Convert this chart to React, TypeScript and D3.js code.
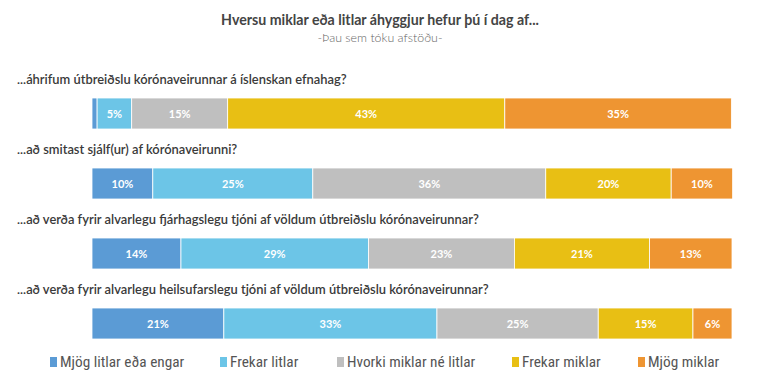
import React from "react";
import * as d3 from "d3";

const title = "Hversu miklar eða litlar áhyggjur hefur þú í dag af...";
const subtitle = "-Þau sem tóku afstöðu-";
const questions = [
  "...áhrifum útbreiðslu kórónaveirunnar á íslenskan efnahag?",
  "...að smitast sjálf(ur) af kórónaveirunni?",
  "...að verða fyrir alvarlegu fjárhagslegu tjóni af völdum útbreiðslu kórónaveirunnar?",
  "...að verða fyrir alvarlegu heilsufarslegu tjóni af völdum útbreiðslu kórónaveirunnar?",
];
const categories = ["Mjög litlar eða engar", "Frekar litlar", "Hvorki miklar né litlar", "Frekar miklar", "Mjög miklar"];
const colors = ["#5b9bd5", "#6cc5e7", "#bfbfbf", "#e8bf14", "#ee9532"];
const q1 = [0.8, 5.4, 15.0, 43.3, 35.4];
const q2 = [9.5, 25.0, 36.4, 19.6, 9.6];
const q3 = [13.9, 29.3, 22.8, 21.1, 12.9];
const q4 = [20.6, 33.3, 25.2, 14.8, 6.1];
const series = [q1, q2, q3, q4];
const legendX = [52, 222, 339, 514, 640];

export default function App() {
  const W = 757, H = 385;
  const x = d3.scaleLinear().domain([0, 100]).range([92, 732]);
  const y = d3.scaleBand<number>().domain([0, 1, 2, 3]).range([84, 364]).paddingInner(0);
  const rows = series.map((vals) => {
    let acc = 0;
    return vals.map((v) => {
      const s = acc;
      acc += v;
      return [s, acc, v] as [number, number, number];
    });
  });
  const font = "Lato, 'Open Sans', sans-serif";
  return (
    <svg width={W} height={H} style={{ position: "absolute", left: 0, top: 0, background: "#fff" }} fontFamily={font}>
      <text x={380} y={25} textAnchor="middle" fontSize={14.2} fontWeight={700} fill="#444">{title}</text>
      <text x={380} y={42} textAnchor="middle" fontSize={12.4} fontWeight={300} fill="#666">{subtitle}</text>
      {questions.map((q, i) => {
        const y0 = y(i)!;
        return (
          <g key={i}>
            <text x={17} y={y0} fontSize={12.9} fontWeight={600} fill="#3a3a3a">{q}</text>
            {rows[i].map(([a, b, v], j) => (
              <g key={j}>
                <rect x={x(a)} y={y0 + 14} width={x(b) - x(a)} height={31} fill={colors[j]} stroke="#fff" strokeWidth={0.8} />
                {v >= 3 && (
                  <text x={(x(a) + x(b)) / 2} y={y0 + 33.5} textAnchor="middle" fontSize={11} fontWeight={700} fill="#fff">
                    {Math.round(v)}%
                  </text>
                )}
              </g>
            ))}
          </g>
        );
      })}
      {categories.map((c, i) => (
        <g key={c}>
          <rect x={legendX[i] - 2} y={357} width={7} height={10} fill={colors[i]} />
          <text x={legendX[i] + 8} y={367} fontSize={15.3} fill="#555" fontFamily="'Liberation Sans Narrow', 'Roboto Condensed', Roboto, sans-serif">{c}</text>
        </g>
      ))}
    </svg>
  );
}
